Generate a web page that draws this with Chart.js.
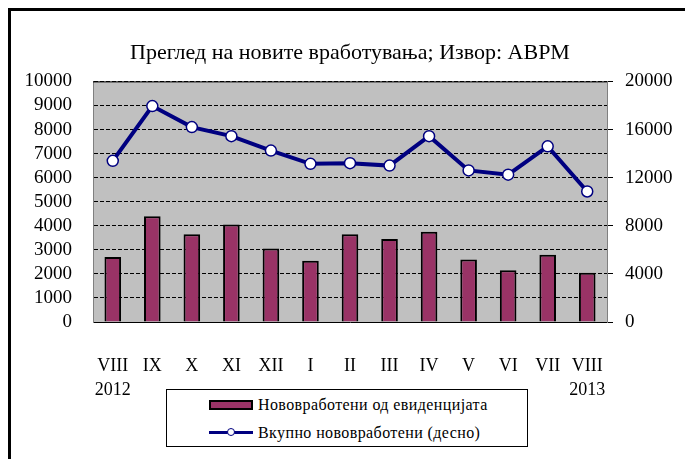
<!DOCTYPE html>
<html>
<head>
<meta charset="utf-8">
<script src="https://cdn.jsdelivr.net/npm/chart.js@4/dist/chart.umd.min.js"></script>
<style>
  body { margin: 0; background: #fff; overflow: hidden; }
  #wrap { position: relative; width: 685px; height: 459px; }
  #frame { position: absolute; left: 8px; top: 8px; width: 700px; height: 500px;
           border-left: 3px solid #000; border-top: 3px solid #000; }
  #chart { position: absolute; left: 0; top: 0; }
  #legend { position: absolute; left: 166px; top: 389px; width: 360px; height: 56px;
            border: 1px solid #000; background: #fff; font-family: "Liberation Serif", serif;
            font-size: 16px; letter-spacing: 0.4px; color: #000; }
  .row { position: absolute; left: 42px; height: 20px; line-height: 20px; white-space: nowrap; }
  .sym { display: inline-block; position: relative; width: 44px; height: 20px; vertical-align: top; margin-right: 5px; }
  .box { position: absolute; left: 0; top: 5px; width: 40px; height: 6px; background: #993366; border: 2px solid #000; }
  .ln { position: absolute; left: 0; top: 8px; width: 44px; height: 3px; background: #000080; }
  .dot { position: absolute; left: 18px; top: 5px; width: 6px; height: 6px; border-radius: 50%;
         background: #fff; border: 1.5px solid #000080; }
</style>
</head>
<body>
<div id="wrap">
  <div id="frame"></div>
  <canvas id="chart" width="685" height="459"></canvas>
  <div id="legend">
    <div class="row" style="top:5px"><span class="sym"><span class="box"></span></span>Нововработени од евиденцијата</div>
    <div class="row" style="top:33px"><span class="sym"><span class="ln"></span><span class="dot"></span></span>Вкупно нововработени (десно)</div>
  </div>
</div>
<script>
// податоци
const categories = [['VIII', '2012'], 'IX', 'X', 'XI', 'XII', 'I', 'II', 'III', 'IV', 'V', 'VI', 'VII', ['VIII', '2013']];
const newFromRegister = [2700, 4400, 3650, 4050, 3050, 2550, 3650, 3450, 3750, 2600, 2150, 2800, 2050];
const totalNew = [13400, 17950, 16200, 15450, 14250, 13150, 13200, 13000, 15450, 12600, 12250, 14600, 10850];

const serif = 'Liberation Serif';

// сива позадина и горна линија на полето
const plotArea = {
  id: 'plotArea',
  beforeDraw(chart) {
    const a = chart.chartArea, ctx = chart.ctx;
    ctx.save();
    ctx.fillStyle = '#c0c0c0';
    ctx.fillRect(a.left, a.top, a.right - a.left, a.bottom - a.top);
    ctx.restore();
  },
  afterDatasetsDraw(chart) {
    const a = chart.chartArea, ctx = chart.ctx;
    ctx.save();
    ctx.strokeStyle = '#000';
    ctx.lineWidth = 1;
    ctx.beginPath();
    ctx.moveTo(a.left, a.top + 0.5);
    ctx.lineTo(a.right, a.top + 0.5);
    ctx.stroke();
    ctx.restore();
  }
};

new Chart(document.getElementById('chart'), {
  type: 'bar',
  data: {
    labels: categories,
    datasets: [{
      type: 'line',
      label: 'Вкупно нововработени (десно)',
      data: totalNew,
      yAxisID: 'y2',
      order: 0,
      borderColor: '#000080',
      borderWidth: 4,
      pointRadius: 5.5,
      pointBackgroundColor: '#fff',
      pointBorderColor: '#000080',
      pointBorderWidth: 1.5,
      tension: 0
    }, {
      label: 'Нововработени од евиденцијата',
      data: newFromRegister,
      yAxisID: 'y',
      order: 1,
      backgroundColor: '#993366',
      borderColor: '#000',
      borderWidth: 2,
      barPercentage: 0.42,
      categoryPercentage: 1
    }]
  },
  options: {
    responsive: false,
    animation: false,
    layout: { padding: 0 },
    plugins: {
      legend: { display: false },
      tooltip: { enabled: false },
      title: {
        display: true,
        fullSize: false,
        text: 'Преглед на новите вработувања; Извор: АВРМ',
        color: '#000',
        font: { family: serif, size: 22, weight: 'normal' },
        padding: { top: 40, bottom: 15 }
      }
    },
    scales: {
      x: {
        grid: { display: false },
        border: { color: '#000', width: 1 },
        ticks: { color: '#000', padding: 25, maxRotation: 0, autoSkip: false,
                 font: { family: serif, size: 18, lineHeight: 1.3 } },
        afterFit(s) { s.height = 137; }
      },
      y: {
        position: 'left',
        min: 0, max: 10000,
        ticks: { stepSize: 1000, autoSkip: false, color: '#000', padding: 21,
                 font: { family: serif, size: 19 }, callback: v => String(v) },
        grid: { display: true, drawOnChartArea: true, color: '#000000', lineWidth: 1, drawTicks: false },
        border: { display: true, color: '#808080', dash: [4, 2] },
        afterFit(s) { s.width = 93; }
      },
      y2: {
        position: 'right',
        min: 0, max: 20000,
        ticks: { stepSize: 4000, autoSkip: false, color: '#000', padding: 12,
                 font: { family: serif, size: 19 }, callback: v => String(v) },
        grid: { drawOnChartArea: false, drawTicks: true, tickLength: 6, tickColor: '#000' },
        border: { color: '#808080' },
        afterFit(s) { s.width = 78; }
      }
    }
  },
  plugins: [plotArea]
});
</script>
</body>
</html>
